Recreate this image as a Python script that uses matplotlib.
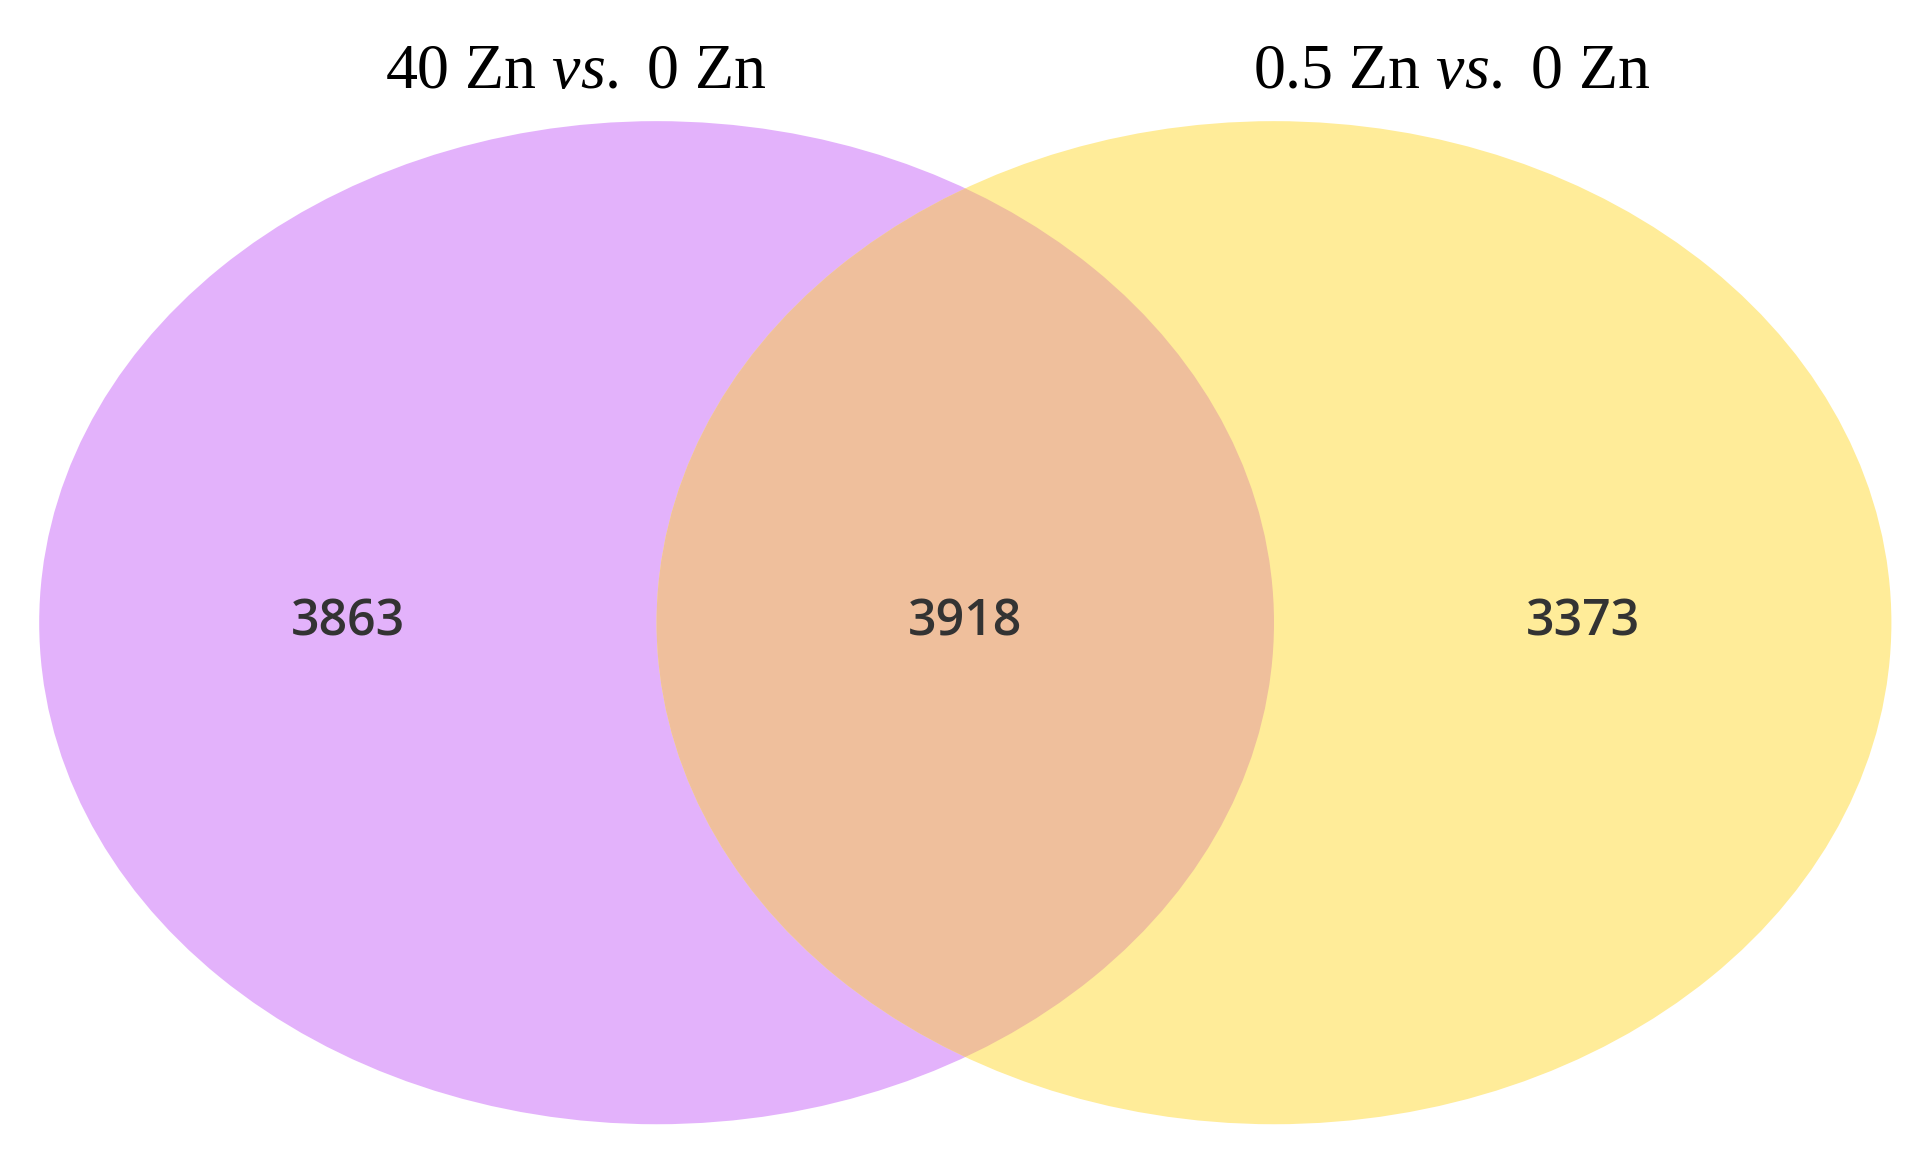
import matplotlib
matplotlib.use("Agg")
import matplotlib.pyplot as plt
from matplotlib.patches import Ellipse

set_labels = ["40 Zn", "0.5 Zn"]
counts = [3863, 3918, 3373]  # left only, both, right only

plt.rcParams['mathtext.fontset'] = 'custom'
plt.rcParams['mathtext.rm'] = 'Liberation Serif'
plt.rcParams['mathtext.it'] = 'Liberation Serif:italic'

fig = plt.figure(figsize=(19.11, 11.63), dpi=100)
ax = fig.add_axes([0, 0, 1, 1])
W, H = 1560, 960
ax.set_xlim(0, W); ax.set_ylim(H, 0); ax.axis('off')

cy = 514; ew, eh = 1008, 828
cl, cr = 536, 1040
left = Ellipse((cl, cy), ew, eh, facecolor='#E3B2FB', edgecolor='none')
right = Ellipse((cr, cy), ew, eh, facecolor='#FFEC99', edgecolor='none')
ax.add_patch(left); ax.add_patch(right)
inter = Ellipse((cr, cy), ew, eh, facecolor='#EFBF9C', edgecolor='none')
ax.add_patch(inter)
clip = Ellipse((cl, cy), ew, eh, transform=ax.transData)
inter.set_clip_path(clip)

ax.text(470, 60, set_labels[0] + r" $\it{vs.}$ 0 Zn", ha='center', va='center',
        fontsize=46, family='Liberation Serif')
ax.text(1185, 60, set_labels[1] + r" $\it{vs.}$ 0 Zn", ha='center', va='center',
        fontsize=46, family='Liberation Serif')

xs = [284, 788, 1292]
for x, c in zip(xs, counts):
    ax.text(x, 514, str(c), ha='center', va='center', fontsize=36,
            family='Open Sans', fontweight='semibold', color='#333333')

fig.savefig("out.png", dpi=100, facecolor='white')
